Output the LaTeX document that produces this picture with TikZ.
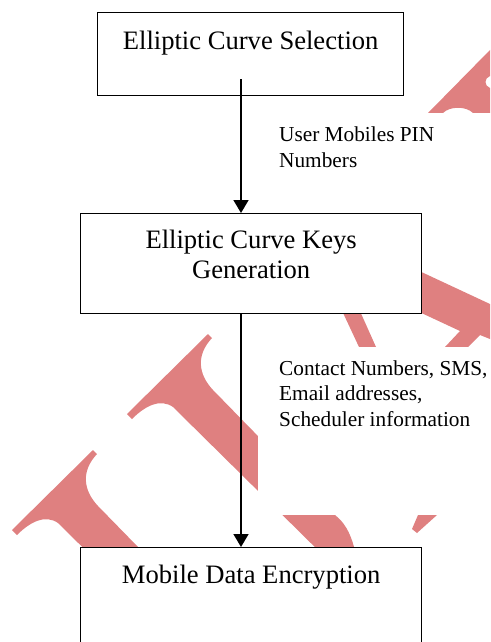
\documentclass[tikz,border=0pt]{standalone}
\usepackage{fontspec}
\setmainfont{Liberation Serif}
\usetikzlibrary{arrows.meta}
\definecolor{wm}{RGB}{223,128,128}
\tikzset{
  glyphI/.pic={
    \fill[wm] (208,334) -- (127,414) -- (132,419)
      .. controls (145,406) and (160,398) .. (173,407)
      -- (330,562) -- (357,562) -- (354,547)
      .. controls (350,532) and (344,522) .. (335,515)
      -- (213,390)
      .. controls (198,374) and (196,355) .. (212,338) -- cycle;
  }
}
\begin{document}
\begin{tikzpicture}[x=1pt,y=-1pt,
  box/.style={draw=black, line width=1.3pt, fill=white, inner sep=0pt, align=center,
    anchor=north west, font=\fontsize{26.6}{30}\selectfont},
  lbl/.style={anchor=base west, align=left, inner sep=0pt, font=\fontsize{21.3}{25.4}\selectfont},
  arr/.style={line width=1.6pt, -{Triangle[width=15pt,length=13pt]}},
  wmfill/.style={fill=wm},
  maskfill/.style={fill=white}]
\useasboundingbox (0,0) rectangle (490,642);
% watermark
\pic at (0,0) {glyphI};
\pic at (-115,116) {glyphI};
\fill[wmfill] (490,50) -- (428,113) -- (443,113)
  .. controls (450,106) and (466,106) .. (473,113) -- (490,113) -- (490,88)
  .. controls (484,86) and (484,78) .. (490,76) -- cycle;
\fill[wmfill] (400,262) -- (490,304) -- (490,339) -- (480,335) -- (468,347)
  -- (445,347) -- (460,331) -- (400,303) -- cycle;
\fill[wmfill] (337,300) -- (355,300) -- (376,347) -- (359,347) -- cycle;
\fill[wmfill] (418,515) -- (437,515) -- (417,533) -- (412,529) -- cycle;
% masks behind labels
\fill[maskfill] (258,113) rectangle (500,200);
\fill[maskfill] (258,347) rectangle (500,515);
% boxes
\node[box, minimum width=306pt, text height=37pt, text depth=46pt] (b1) at (97,12) {Elliptic Curve Selection};
\node[box, minimum width=341pt, text height=65pt, text depth=35pt] (b2) at (80,213) {Elliptic Curve Keys\\Generation};
\node[box, minimum width=341pt, text height=36pt, text depth=120pt] (b3) at (80,547) {Mobile Data Encryption};
% arrows
\coordinate (a1s) at (241,79);
\draw[arr] (a1s) -- (a1s |- b2.north);
\coordinate (a2s) at (a1s |- b2.south);
\draw[arr] (a2s) -- (a2s |- b3.north);
% labels
\node[lbl] (l1) at (279,167) {User Mobiles PIN\\Numbers};
\node[lbl] (l2) at (279,426) {Contact Numbers, SMS,\\Email addresses,\\Scheduler information};
\end{tikzpicture}
\end{document}
